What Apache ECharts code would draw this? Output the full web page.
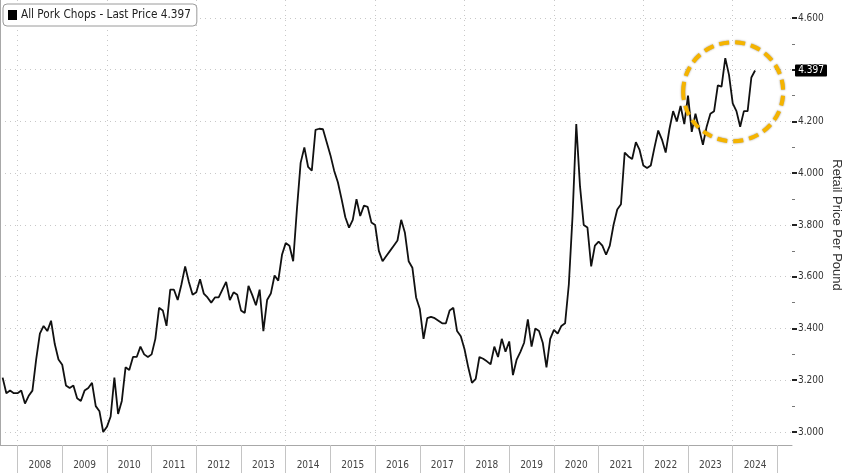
<!DOCTYPE html>
<html>
<head>
<meta charset="utf-8">
<script src="https://cdn.jsdelivr.net/npm/echarts@6/dist/echarts.min.js"></script>
<style>html,body{margin:0;padding:0;background:#fff}#c{width:848px;height:473px}</style>
</head>
<body>
<div id="c"></div>
<script>
// ---- data ----
const startYear = 2007, startMonth = 9; // first monthly observation: Sep 2007
const prices = [
  3.21, 3.15, 3.16, 3.15, 3.15, 3.16, 3.11, 3.14, 3.16, 3.28,
  3.38, 3.41, 3.39, 3.43, 3.34, 3.28, 3.26, 3.18, 3.17, 3.18,
  3.13, 3.12, 3.16, 3.17, 3.19, 3.10, 3.08, 3.00, 3.02, 3.06,
  3.21, 3.07, 3.12, 3.25, 3.24, 3.29, 3.29, 3.33, 3.30, 3.29,
  3.30, 3.36, 3.48, 3.47, 3.41, 3.55, 3.55, 3.51, 3.57, 3.64,
  3.58, 3.53, 3.54, 3.59, 3.535, 3.52, 3.50, 3.52, 3.52, 3.55,
  3.58, 3.51, 3.54, 3.53, 3.47, 3.46, 3.565, 3.53, 3.49, 3.55,
  3.39, 3.51, 3.535, 3.605, 3.585, 3.685, 3.73, 3.72, 3.66, 3.86,
  4.04, 4.10, 4.025, 4.01, 4.168, 4.172, 4.17, 4.12, 4.07, 4.01,
  3.965, 3.90, 3.83, 3.79, 3.82, 3.90, 3.835, 3.875, 3.87, 3.81,
  3.80, 3.70, 3.66, 3.68, 3.70, 3.72, 3.74, 3.82, 3.77, 3.66,
  3.635, 3.52, 3.475, 3.36, 3.44, 3.445, 3.44, 3.43, 3.42, 3.42,
  3.47, 3.48, 3.39, 3.37, 3.32, 3.25, 3.19, 3.205, 3.29, 3.283,
  3.273, 3.262, 3.33, 3.29, 3.36, 3.31, 3.35, 3.22, 3.28, 3.31,
  3.345, 3.435, 3.33, 3.40, 3.39, 3.345, 3.25, 3.36, 3.395, 3.38,
  3.41, 3.42, 3.57, 3.835, 4.19, 3.95, 3.80, 3.79, 3.64, 3.72,
  3.736, 3.72, 3.685, 3.72, 3.80, 3.86, 3.88, 4.08, 4.065, 4.055,
  4.12, 4.09, 4.03, 4.02, 4.03, 4.10, 4.165, 4.13, 4.08, 4.17,
  4.24, 4.20, 4.26, 4.19, 4.30, 4.16, 4.23, 4.17, 4.11, 4.18,
  4.23, 4.24, 4.34, 4.335, 4.445, 4.38, 4.27, 4.24, 4.18, 4.24,
  4.24, 4.37, 4.397
];
const years = ['2008','2009','2010','2011','2012','2013','2014','2015','2016',
               '2017','2018','2019','2020','2021','2022','2023','2024'];
const seriesName = 'All Pork Chops';
const yAxisTitle = 'Retail Price Per Pound';

// ---- layout ----
const W = 848, H = 473;
const PLOT_R = 792;           // right axis position (px)
const X_MIN = 2007.608, X_MAX = 2025.326;
const pxPerYear = PLOT_R / (X_MAX - X_MIN);
const yearGridLeft = (2008 - X_MIN) * pxPerYear;
const yearGridRight = W - (2025 - X_MIN) * pxPerYear;
const FONT = '"Liberation Sans Narrow","DejaVu Sans Condensed","Liberation Sans",sans-serif';

const lineData = prices.map((v, i) => [startYear + (startMonth - 1 + i) / 12, v]);
const last = prices[prices.length - 1];

const gridBase = {containLabel: false, outerBoundsMode: 'none'};

const chart = echarts.init(document.getElementById('c'), null, {renderer: 'canvas'});
chart.setOption({
  backgroundColor: '#fff',
  animation: false,
  legend: {
    left: 3, top: 4,
    padding: [5, 6, 5, 5],
    itemWidth: 9, itemHeight: 10, itemGap: 4,
    icon: 'rect',
    backgroundColor: '#fff',
    borderColor: '#9a9a9a', borderWidth: 1, borderRadius: 4,
    textStyle: {fontFamily: FONT, fontSize: 11.7, color: '#222', padding: [0, 0, 0, -1]},
    formatter: n => n + ' - Last Price ' + last.toFixed(3),
    data: [{name: seriesName, itemStyle: {color: '#000'}}]
  },
  grid: [
    Object.assign({left: 0, right: W - PLOT_R, top: 18, bottom: 41}, gridBase),
    Object.assign({left: 0, right: W - PLOT_R, top: 0, bottom: 28}, gridBase),
    Object.assign({left: yearGridLeft, right: yearGridRight, top: 0, bottom: 28}, gridBase)
  ],
  xAxis: [
    {gridIndex: 0, type: 'value', min: X_MIN, max: X_MAX, show: false},
    {gridIndex: 1, type: 'value', min: 0, max: 1, position: 'bottom',
     axisLine: {show: true, lineStyle: {color: '#a8a8a8', width: 1}},
     axisTick: {show: false}, axisLabel: {show: false}, splitLine: {show: false}},
    {gridIndex: 2, type: 'category', data: years, boundaryGap: true, position: 'bottom',
     axisLine: {show: false},
     axisTick: {show: true, length: 28, interval: 0, lineStyle: {color: '#c4c4c4', width: 1}},
     axisLabel: {show: true, interval: 0, margin: 15, fontFamily: FONT, fontSize: 10, color: '#444'},
     splitLine: {show: false}},
    {gridIndex: 2, type: 'value', min: 2008, max: 2025, interval: 2, position: 'top',
     axisLine: {show: false}, axisTick: {show: false}, axisLabel: {show: false},
     splitLine: {show: true, showMaxLine: false,
                 lineStyle: {color: '#c8c8c8', type: [1, 4], width: 1}}}
  ],
  yAxis: [
    {gridIndex: 0, type: 'value', position: 'right', min: 3.0, max: 4.6, interval: 0.2,
     axisLine: {show: false},
     axisTick: {show: true, length: 5, lineStyle: {color: '#222', width: 2}},
     minorTick: {show: true, splitNumber: 2, length: 3, lineStyle: {color: '#777', width: 1}},
     axisLabel: {margin: 6, fontFamily: FONT, fontSize: 10, color: '#333',
                 formatter: v => v.toFixed(3)},
     splitLine: {show: true, lineStyle: {color: '#c8c8c8', type: [1, 4], width: 1}},
     name: yAxisTitle, nameLocation: 'middle', nameRotate: -90, nameGap: 38,
     nameMoveOverlap: false,
     nameTextStyle: {fontFamily: '"Liberation Sans",sans-serif', fontSize: 13, color: '#333'}},
    {gridIndex: 1, type: 'value', position: 'right', min: 0, max: 1,
     axisLine: {show: true, lineStyle: {color: '#a8a8a8', width: 1}},
     axisTick: {show: false}, axisLabel: {show: false}, splitLine: {show: false}},
    {gridIndex: 2, type: 'value', show: false}
  ],
  series: [{
    name: seriesName, type: 'line', xAxisIndex: 0, yAxisIndex: 0,
    data: lineData, showSymbol: false, symbol: 'none', clip: false,
    lineStyle: {color: '#111', width: 1.8}, itemStyle: {color: '#000'}, z: 5
  }]
});

// annotation circle + last price tag positioned through the axes
const ctr = chart.convertToPixel({xAxisIndex: 0, yAxisIndex: 0}, [2024.01, 4.315]);
const tagY = chart.convertToPixel({yAxisIndex: 0}, last);
chart.setOption({
  graphic: [
    {type: 'ellipse', z: 20, silent: true,
     shape: {cx: ctr[0], cy: ctr[1], rx: 50, ry: 49.5},
     style: {fill: 'none', stroke: '#F5B400', lineWidth: 4, lineDash: [10, 6],
             shadowBlur: 2, shadowColor: 'rgba(60,40,0,0.55)'}},
    {type: 'rect', z: 20, silent: true,
     shape: {x: PLOT_R + 3, y: tagY - 6, width: 32, height: 12, r: 1},
     style: {fill: '#000'}},
    {type: 'text', z: 21, silent: true, x: PLOT_R + 19, y: tagY,
     style: {text: last.toFixed(3), fill: '#fff', font: '10px ' + FONT,
             align: 'center', verticalAlign: 'middle'}}
  ]
});
</script>
</body>
</html>
